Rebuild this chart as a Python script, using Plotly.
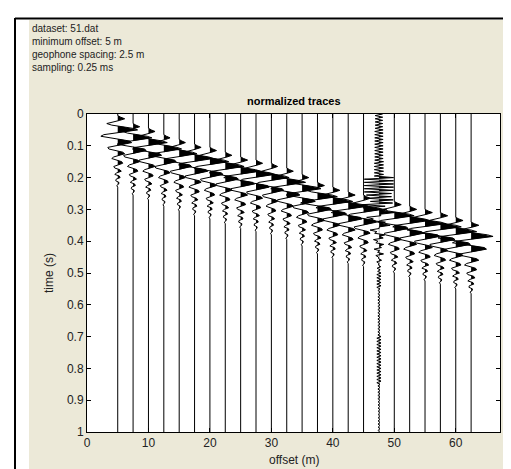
import numpy as np
import plotly.graph_objects as go

# ---------------- data ----------------
offsets = [5.0, 7.5, 10.0, 12.5, 15.0, 17.5, 20.0, 22.5, 25.0, 27.5, 30.0, 32.5,
           35.0, 37.5, 40.0, 42.5, 45.0, 47.5, 50.0, 52.5, 55.0, 57.5, 60.0, 62.5]
# time (s) of the strongest positive lobe on each trace
peak_times = [0.05, 0.075, 0.09, 0.11, 0.125, 0.14, 0.15, 0.165, 0.18, 0.19, 0.2, 0.215,
              0.235, 0.26, 0.275, 0.29, 0.3, 0.31, 0.32, 0.335, 0.345, 0.355, 0.37, 0.385]
# relative strength of that event on each (normalized) trace
event_amps = [0.95, 0.9, 0.9, 0.85, 0.85, 0.9, 0.9, 0.9, 0.95, 0.9, 0.85, 0.9,
              0.9, 0.95, 0.95, 0.95, 0.9, 0.55, 0.95, 0.95, 1.0, 1.0, 1.0, 1.05]
# wavelet shape sampled every 0.005 s (peak at sample 9)
wavelet = [0.0, 0.15, 0.35, 0.1, -0.3, -0.55, -0.3, 0.3, 0.75, 1.0, 0.5, -0.2, -0.7,
           -0.85, -0.4, 0.2, 0.6, 0.7, 0.3, -0.25, -0.5, -0.45, -0.1, 0.25, 0.35, 0.1,
           -0.2, -0.3, -0.05, 0.2, 0.25, 0.0, -0.2, -0.15, 0.1, 0.18, -0.05, -0.15, 0.08,
           0.12, -0.08, -0.1, 0.06, 0.05, -0.05, 0.0]
wavelet_peak_index = 9
# noisy trace at 47.5 m: ringing envelope for each 0.05 s block (0 .. 1 s)
ring_offset = 47.5
ring_envelope = [0.18, 0.2, 0.2, 0.22, 0.7, 0.6, 0.2, 0.15, 0.12, 0.06, 0.1,
                 0.05, 0.05, 0.05, 0.1, 0.1, 0.1, 0.05, 0.04, 0.04, 0.03]
info_lines = ["dataset: 51.dat", "minimum offset: 5 m", "geophone spacing: 2.5 m", "sampling: 0.25 ms"]
x_ticks = [0, 10, 20, 30, 40, 50, 60]
y_ticks = [0, 0.1, 0.2, 0.3, 0.4, 0.5, 0.6, 0.7, 0.8, 0.9, 1.0]
y_tick_text = ["0", "0.1", "0.2", "0.3", "0.4", "0.5", "0.6", "0.7", "0.8", "0.9", "1"]

# ---------------- build traces ----------------
dt = 0.005
nt = 201
t = np.arange(nt) * dt
scale = 3.4  # metres per unit amplitude

W = 511; H = 469
L, R, T, B = 79, 19, 106, 45
pw = W - L - R; ph = H - T - B
def px(x): return (x - L) / pw
def py(y): return (H - B - y) / ph

fig = go.Figure()
for i, off in enumerate(offsets):
    a = np.zeros(nt)
    start = int(round(peak_times[i] / dt)) - wavelet_peak_index
    for k, w in enumerate(wavelet):
        j = start + k
        if 0 <= j < nt:
            a[j] += event_amps[i] * w
    if off == ring_offset:
        for j in range(nt):
            blk = min(j // 10, len(ring_envelope) - 1)
            a[j] += ring_envelope[blk] * (1 if j % 2 == 0 else -1)
    x = off + scale * a
    # fill polygon for positive part (with zero crossings for clean edges)
    fx, fy = [], []
    for j in range(nt):
        if j > 0 and (a[j - 1] > 0) != (a[j] > 0) and a[j - 1] != a[j]:
            f = a[j - 1] / (a[j - 1] - a[j])
            fx.append(off); fy.append(t[j - 1] + f * dt)
        fx.append(off + scale * max(a[j], 0.0)); fy.append(t[j])
    fx += [off, off]; fy += [t[-1], t[0]]
    fig.add_trace(go.Scatter(x=fx, y=fy, mode="lines", fill="toself", fillcolor="black",
                             line=dict(width=0, color="black"), hoverinfo="skip", showlegend=False))
    fig.add_trace(go.Scatter(x=x, y=t, mode="lines", line=dict(color="black", width=1),
                             hoverinfo="skip", showlegend=False))

axis_common = dict(showline=True, linecolor="black", linewidth=1, mirror="ticks",
                   ticks="inside", ticklen=4, tickcolor="black", showgrid=False, zeroline=False,
                   tickfont=dict(family="Liberation Sans", size=12, color="#222"))
fig.update_layout(
    width=W, height=H, autosize=False,
    margin=dict(l=L, r=R, t=T, b=B, pad=0),
    paper_bgcolor="#ECE9D8", plot_bgcolor="white",
    xaxis=dict(range=[0, 67.2], tickvals=x_ticks, **axis_common),
    yaxis=dict(range=[1, 0], tickvals=y_ticks, ticktext=y_tick_text, **axis_common),
)

shapes = [
    dict(type="rect", xref="paper", yref="paper", x0=px(0), x1=px(21), y0=py(H), y1=py(0),
         fillcolor="white", line=dict(width=0), layer="below"),
    dict(type="rect", xref="paper", yref="paper", x0=px(0), x1=px(W), y0=py(12), y1=py(0),
         fillcolor="white", line=dict(width=0), layer="below"),
    dict(type="rect", xref="paper", yref="paper", x0=px(508), x1=px(W), y0=py(H), y1=py(0),
         fillcolor="white", line=dict(width=0), layer="below"),
    dict(type="line", xref="paper", yref="paper", x0=px(7), x1=px(7), y0=py(10), y1=py(H),
         line=dict(color="black", width=2)),
    dict(type="line", xref="paper", yref="paper", x0=px(7), x1=px(508), y0=py(10.5), y1=py(10.5),
         line=dict(color="black", width=2)),
]
fig.update_layout(shapes=shapes)

ann = [dict(text="<br>".join(info_lines), xref="paper", yref="paper", x=px(23), y=py(14),
            xanchor="left", yanchor="top", align="left", showarrow=False, borderpad=0,
            font=dict(family="Liberation Sans", size=10, color="#222"))]
ann.append(dict(text="<b>normalized traces</b>", xref="paper", yref="paper", x=0.5, y=py(93),
                xanchor="center", yanchor="middle", showarrow=False,
                font=dict(family="Liberation Sans", size=11, color="black")))
ann.append(dict(text="offset (m)", xref="paper", yref="paper", x=0.5, y=py(452),
                xanchor="center", yanchor="middle", showarrow=False,
                font=dict(family="Liberation Sans", size=12, color="#222")))
ann.append(dict(text="time (s)", xref="paper", yref="paper", x=px(41), y=0.5, textangle=-90,
                xanchor="center", yanchor="middle", showarrow=False,
                font=dict(family="Liberation Sans", size=12, color="#222")))
fig.update_layout(annotations=ann)

fig.write_html("out.html")
